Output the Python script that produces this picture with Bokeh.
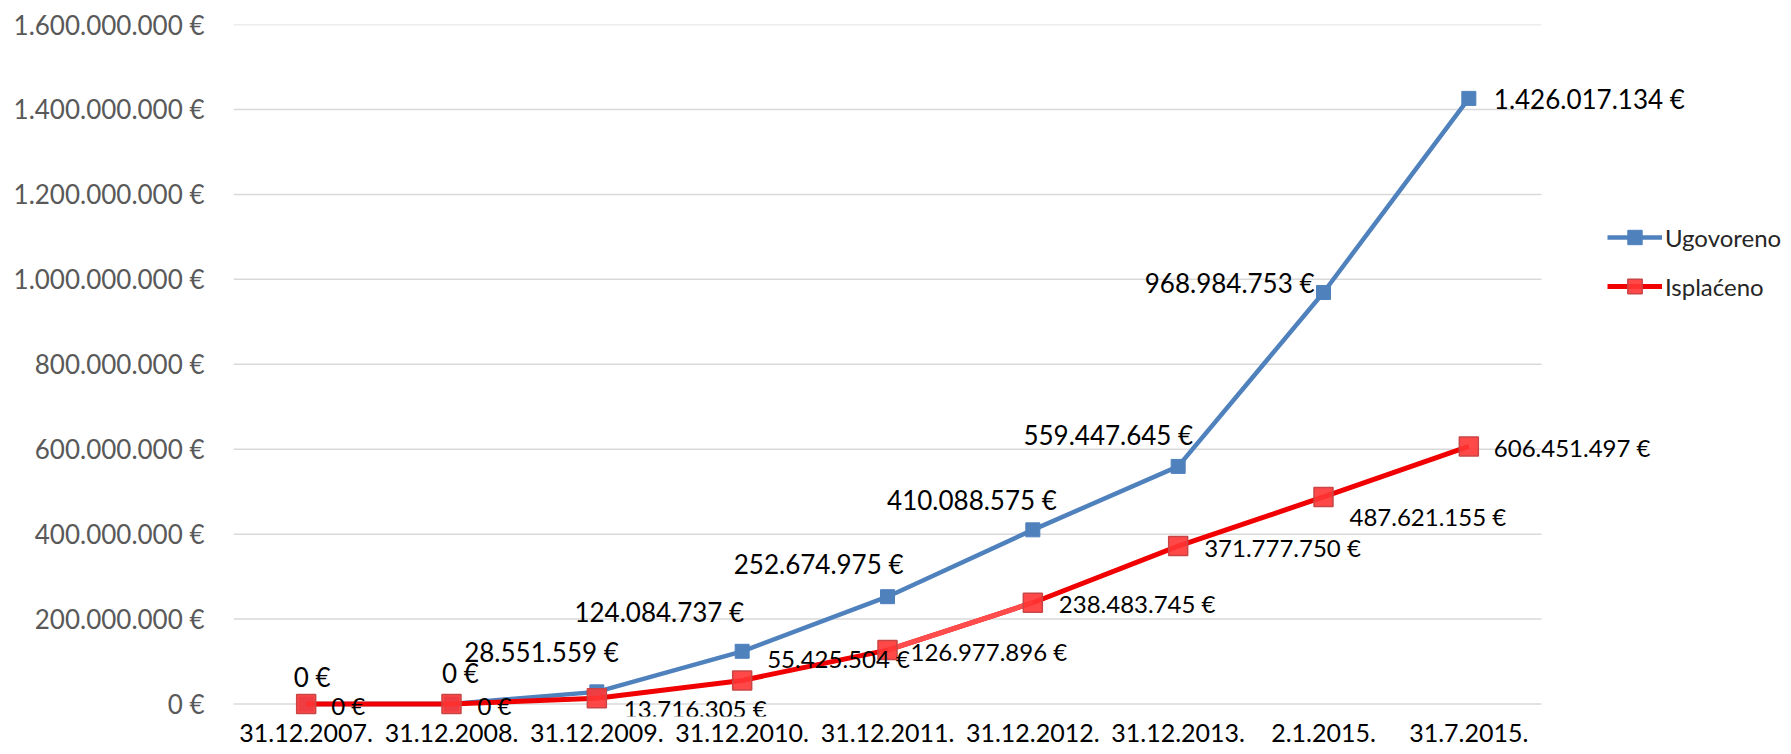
from bokeh.plotting import figure
from bokeh.models import (ColumnDataSource, Range1d, FixedTicker, Legend,
                          LegendItem, LabelSet)
from bokeh.embed import file_html
from bokeh.resources import INLINE
from bokeh.core.properties import value

# ---------------- data ----------------
categories = ["31.12.2007.", "31.12.2008.", "31.12.2009.", "31.12.2010.", "31.12.2011.",
              "31.12.2012.", "31.12.2013.", "2.1.2015.", "31.7.2015."]
ugovoreno = [0, 0, 28551559, 124084737, 252674975, 410088575, 559447645, 968984753, 1426017134]
isplaceno = [0, 0, 13716305, 55425504, 126977896, 238483745, 371777750, 487621155, 606451497]
series_names = ["Ugovoreno", "Isplaćeno"]
y_ticks = [0, 200000000, 400000000, 600000000, 800000000, 1000000000, 1200000000, 1400000000, 1600000000]
y_tick_labels = ["0 €", "200.000.000 €", "400.000.000 €", "600.000.000 €", "800.000.000 €",
                 "1.000.000.000 €", "1.200.000.000 €", "1.400.000.000 €", "1.600.000.000 €"]

# ---------------- layout / style ----------------
FONT = "Lato"
BLUE = "#4F81BD"
RED = "#F00000"
PLOT_W = 1308          # px width of the category area (gridlines)
FRAME_W = 1558         # px width of the drawing frame (labels + legend to the right)
PLOT_H = 679.5         # px height for 0 .. 1.6 bn
BELOW_ZERO = 12.5      # px of frame under the zero line

# label placement (screen px, y down)
blue_align = ["center", "center", "right", "right", "right", "right", "right", "right", "left"]
blue_dx = [6, 9, 22, 2, 16, 24, 15, -9, 25]
blue_dy = [-27, -31, -40, -39, -33, -30, -31, -9, 1]
red_align = ["left"] * 9
red_dx = [25, 26, 27, 25, 23, 26, 26, 26, 25]
red_dy = [1, 1, 10, -22, 1, 1, 1, 20, 1]


def eur(v):
    return f"{v:,}".replace(",", ".") + " €"


n = len(categories)
xpos = [i + 0.5 for i in range(n)]
y_top = y_ticks[-1]
y_bottom = -y_top * BELOW_ZERO / PLOT_H

p = figure(width=1791, height=754,
           x_range=Range1d(0, n * FRAME_W / PLOT_W),
           y_range=Range1d(y_bottom, y_top),
           output_backend="svg", toolbar_location=None,
           min_border_left=233, min_border_right=0, min_border_top=24, min_border_bottom=38)
p.outline_line_color = None
p.background_fill_color = "white"
p.border_fill_color = "white"

# axes
p.yaxis.ticker = FixedTicker(ticks=y_ticks)
p.yaxis.major_label_overrides = {t: l for t, l in zip(y_ticks, y_tick_labels)}
p.xaxis.ticker = FixedTicker(ticks=xpos)
p.xaxis.major_label_overrides = {x: c for x, c in zip(xpos, categories)}
for ax in (p.xaxis[0], p.yaxis[0]):
    ax.axis_line_color = None
    ax.major_tick_line_color = None
    ax.minor_tick_line_color = None
    ax.major_tick_out = 0
    ax.major_tick_in = 0
    ax.major_label_text_font = FONT
p.yaxis.major_label_text_font_size = "26px"
p.yaxis.major_label_text_color = "#595959"
p.yaxis.major_label_standoff = 29
p.xaxis.major_label_text_font_size = "25px"
p.xaxis.major_label_text_color = "#000000"
p.xaxis.major_label_standoff = 7

p.xgrid.grid_line_color = None
p.ygrid.grid_line_color = None
# horizontal gridlines spanning only the category area
p.segment(x0=[0] * len(y_ticks), x1=[n] * len(y_ticks), y0=y_ticks, y1=y_ticks,
          line_color="#D9D9D9", line_width=1.5)

# series
src_u = ColumnDataSource(dict(x=xpos, y=ugovoreno))
src_i = ColumnDataSource(dict(x=xpos, y=isplaceno))

l_u = p.line("x", "y", source=src_u, line_color=BLUE, line_width=4.5)
m_u = p.scatter("x", "y", source=src_u, marker="square", size=14,
                fill_color=BLUE, line_color=BLUE)

l_i = p.line("x", "y", source=src_i, line_color=RED, line_width=5)
# lighter-rendered segment in the original between 2011 and 2012
p.line(xpos[4:6], isplaceno[4:6], line_color="#FF4D4D", line_width=5)
m_i = p.scatter("x", "y", source=src_i, marker="square", size=19,
                fill_color="#FF3535", fill_alpha=0.9, line_color="#C94545", line_width=1.5)

# data labels
for vals, aligns, dxs, dys, fsize in ((ugovoreno, blue_align, blue_dx, blue_dy, "26px"),
                                      (isplaceno, red_align, red_dx, red_dy, "24px")):
    for align in ("left", "center", "right"):
        idx = [i for i in range(n) if aligns[i] == align]
        if not idx:
            continue
        s = ColumnDataSource(dict(
            x=[xpos[i] for i in idx], y=[vals[i] for i in idx],
            t=[eur(vals[i]) for i in idx],
            dx=[dxs[i] for i in idx], dy=[-dys[i] for i in idx]))
        p.add_layout(LabelSet(x="x", y="y", text="t", source=s, x_offset="dx", y_offset="dy",
                              text_align=align, text_baseline="middle", text_font=value(FONT),
                              text_font_size=fsize, text_color="#000000"))

legend = Legend(items=[LegendItem(label=series_names[0], renderers=[l_u, m_u]),
                       LegendItem(label=series_names[1], renderers=[l_i, m_i])],
                location=(1374, 412), orientation="vertical")
legend.margin = 0
legend.padding = 0
legend.border_line_color = None
legend.background_fill_alpha = 0
legend.glyph_width = 55
legend.glyph_height = 36
legend.label_height = 36
legend.label_standoff = 3
legend.spacing = 13
legend.label_text_font = FONT
legend.label_text_font_size = "24px"
legend.label_text_color = "#262626"
p.add_layout(legend)

open("out.html", "w").write(file_html(p, INLINE))
